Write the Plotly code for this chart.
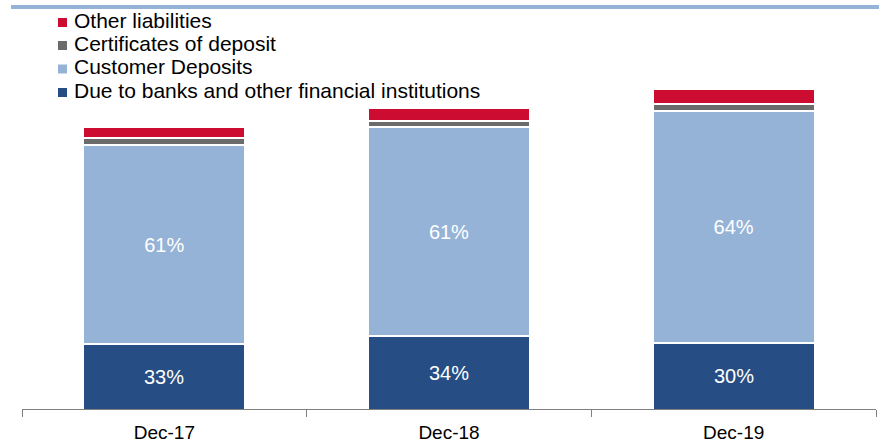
import plotly.graph_objects as go

# ---- data ----
categories = ["Dec-17", "Dec-18", "Dec-19"]
due_to_banks = [10.7, 11.5, 10.8]
customer_deposits = [19.9, 20.9, 23.2]
certificates = [0.7, 0.6, 0.7]
other_liab = [1.1, 1.3, 1.5]
due_labels = ["33%", "34%", "30%"]
cust_labels = ["61%", "61%", "64%"]
series_names = ["Due to banks and other financial institutions", "Customer Deposits",
                "Certificates of deposit", "Other liabilities"]
y_min = 4.2

colors = ["#264E84", "#95B3D7", "#6B6B6B", "#CC0C30"]
W, H = 879, 446
ML, MR, MT, MB = 22, 3, 20, 37
PW, PH = W - ML - MR, H - MT - MB
FONT = "Liberation Sans, Arial, sans-serif"

def px_x(x):
    return (x - ML) / PW

def px_y(y):
    return (H - MB - y) / PH

fig = go.Figure()
series = [due_to_banks, customer_deposits, certificates, other_liab]
labels = [None, cust_labels, None, None]
for name, vals, col, lab in zip(series_names, series, colors, labels):
    fig.add_trace(go.Bar(
        x=categories, y=vals, name=name,
        marker=dict(color=col, line=dict(color="white", width=2)),
        text=lab, textposition="inside" if lab else "none",
        insidetextanchor="middle", textangle=0,
        textfont=dict(color="white", size=20, family=FONT),
        showlegend=False, hoverinfo="skip",
    ))

annotations = []
# labels for the bottom segment, centred on its visible part (axis starts at y_min)
for cat, v, lab in zip(categories, due_to_banks, due_labels):
    annotations.append(dict(text=lab, x=cat, y=(y_min + v) / 2, xref="x", yref="y",
                            showarrow=False, xanchor="center", yanchor="middle",
                            font=dict(size=20, color="white", family=FONT)))

# legend built as annotations + squares (top entry = last series)
legend_rows = [20.5, 43.5, 67.0, 90.5]
shapes = []
for i, (name, col) in enumerate(zip(series_names[::-1], colors[::-1])):
    yc = legend_rows[i]
    shapes.append(dict(type="rect", xref="paper", yref="paper",
                       x0=px_x(58), x1=px_x(67), y0=px_y(yc + 2 + 4.5), y1=px_y(yc + 2 - 4.5),
                       fillcolor=col, line=dict(width=0)))
    annotations.append(dict(text=name, xref="paper", yref="paper", x=px_x(72), y=px_y(yc),
                            xanchor="left", yanchor="middle", showarrow=False,
                            font=dict(size=21, color="black", family=FONT)))

# top rule
shapes.append(dict(type="line", xref="paper", yref="paper", x0=px_x(11), x1=px_x(879),
                   y0=px_y(7), y1=px_y(7), line=dict(color="#95B3D7", width=4)))

fig.update_layout(
    barmode="stack", bargap=0.43,
    width=W, height=H,
    margin=dict(l=ML, r=MR, t=MT, b=MB),
    paper_bgcolor="white", plot_bgcolor="white",
    font=dict(family=FONT, color="black"),
    xaxis=dict(showline=True, linecolor="#808080", linewidth=1, ticks="outside",
               tickson="boundaries", ticklen=7, tickcolor="#808080",
               ticklabelstandoff=6,
               tickfont=dict(size=19, color="black"), showgrid=False, zeroline=False,
               fixedrange=True),
    yaxis=dict(visible=False, range=[y_min, y_min + PH / 10], showgrid=False, zeroline=False,
               fixedrange=True),
    shapes=shapes, annotations=annotations,
    hovermode=False, showlegend=False,
)

fig.write_html("out.html", config={"displayModeBar": False},
               post_script="document.body.style.margin='0';document.body.style.overflow='hidden';")
